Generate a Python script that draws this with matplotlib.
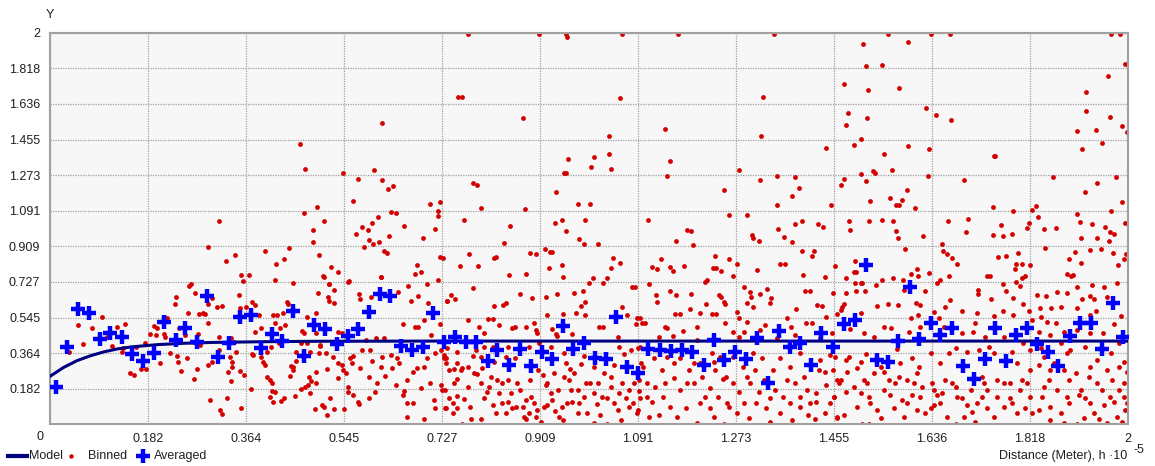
import numpy as np
import matplotlib.pyplot as plt
from matplotlib.lines import Line2D

plt.rcParams['font.family'] = ['Liberation Sans', 'DejaVu Sans']

# fitted model
model_x = [0, 0.025, 0.05, 0.075, 0.1, 0.125, 0.15, 0.2, 0.25, 0.3, 0.4, 0.5, 0.7, 2.0]
model_y = [0.245, 0.29, 0.325, 0.35, 0.37, 0.385, 0.395, 0.407, 0.414, 0.418, 0.422, 0.424, 0.425, 0.425]

# averaged semivariance (blue crosses)
avg_x = [0.012, 0.032, 0.052, 0.072, 0.092, 0.111, 0.133, 0.153, 0.172, 0.193,
         0.212, 0.233, 0.251, 0.273, 0.292, 0.312, 0.332, 0.352, 0.372, 0.392,
         0.411, 0.431, 0.451, 0.471, 0.490, 0.511, 0.533, 0.552, 0.572, 0.592,
         0.612, 0.631, 0.651, 0.671, 0.692, 0.711, 0.731, 0.751, 0.772, 0.791,
         0.812, 0.830, 0.851, 0.872, 0.892, 0.912, 0.931, 0.952, 0.971, 0.991,
         1.011, 1.031, 1.051, 1.071, 1.090, 1.110, 1.131, 1.152, 1.172, 1.192,
         1.213, 1.231, 1.251, 1.271, 1.292, 1.312, 1.332, 1.352, 1.372, 1.392,
         1.412, 1.431, 1.452, 1.473, 1.493, 1.514, 1.535, 1.555, 1.574, 1.595,
         1.613, 1.634, 1.652, 1.674, 1.693, 1.714, 1.734, 1.753, 1.773, 1.793,
         1.813, 1.831, 1.852, 1.871, 1.892, 1.911, 1.932, 1.951, 1.972, 1.991]
avg_y = [0.192, 0.393, 0.587, 0.570, 0.437, 0.464, 0.447, 0.359, 0.321, 0.362,
         0.524, 0.430, 0.493, 0.422, 0.656, 0.345, 0.413, 0.549, 0.560, 0.391,
         0.461, 0.425, 0.580, 0.350, 0.507, 0.485, 0.408, 0.451, 0.488, 0.573,
         0.663, 0.656, 0.400, 0.379, 0.396, 0.570, 0.422, 0.444, 0.422, 0.418,
         0.323, 0.379, 0.303, 0.383, 0.298, 0.371, 0.333, 0.502, 0.383, 0.413,
         0.338, 0.333, 0.546, 0.291, 0.264, 0.383, 0.379, 0.374, 0.379, 0.371,
         0.303, 0.430, 0.328, 0.371, 0.335, 0.442, 0.209, 0.476, 0.396, 0.417,
         0.303, 0.468, 0.393, 0.510, 0.532, 0.816, 0.328, 0.316, 0.427, 0.702,
         0.435, 0.519, 0.456, 0.490, 0.298, 0.230, 0.332, 0.490, 0.323, 0.456,
         0.490, 0.408, 0.369, 0.298, 0.451, 0.519, 0.515, 0.383, 0.617, 0.447]

# binned semivariance (red dots), (distance, value)
binned = [
    # 0 - 0.36
    (0.463, 1.434), (0.474, 1.306), (0.616, 1.539), (0.543, 1.281), (0.602, 1.301),
    (0.571, 1.255), (0.616, 1.250), (0.627, 1.204), (0.636, 1.216), (0.562, 1.141),
    (0.496, 1.111), (0.472, 1.077), (0.509, 1.037), (0.633, 1.086), (0.642, 1.080),
    (0.609, 1.060), (0.597, 1.029), (0.579, 1.008), (0.590, 0.991), (0.567, 0.974),
    (0.592, 0.940), (0.610, 0.932), (0.599, 0.920), (0.583, 0.903), (0.629, 0.961),
    (0.620, 0.886), (0.625, 0.876), (0.488, 0.991), (0.488, 0.929), (0.499, 0.864),
    (0.507, 0.757), (0.521, 0.801), (0.535, 0.779), (0.517, 0.719), (0.553, 0.728),
    (0.615, 0.754), (0.444, 0.899), (0.434, 0.842), (0.419, 0.821), (0.399, 0.886),
    (0.417, 0.736), (0.450, 0.723), (0.344, 0.864), (0.326, 0.833), (0.313, 1.037),
    (0.294, 0.903), (0.355, 0.765), (0.369, 0.765), (0.358, 0.731), (0.262, 0.719),
    (0.258, 0.707),
    (0.269, 0.672), (0.233, 0.651), (0.231, 0.614), (0.301, 0.643), (0.350, 0.660),
    (0.310, 0.600), (0.319, 0.604), (0.293, 0.614), (0.353, 0.592), (0.363, 0.600),
    (0.277, 0.563), (0.284, 0.566), (0.288, 0.563), (0.256, 0.570), (0.293, 0.515),
    (0.211, 0.549), (0.217, 0.544), (0.193, 0.502), (0.199, 0.490), (0.186, 0.459),
    (0.196, 0.456), (0.211, 0.461), (0.214, 0.444), (0.176, 0.417), (0.239, 0.493),
    (0.251, 0.456), (0.274, 0.461), (0.279, 0.405), (0.268, 0.422), (0.313, 0.447),
    (0.335, 0.439), (0.341, 0.418), (0.097, 0.546), (0.140, 0.510), (0.125, 0.495),
    (0.077, 0.490), (0.052, 0.507), (0.061, 0.408), (0.106, 0.444), (0.115, 0.401),
    (0.136, 0.388), (0.159, 0.393), (0.035, 0.371), (0.133, 0.371), (0.222, 0.362),
    (0.235, 0.349), (0.238, 0.320), (0.254, 0.337), (0.243, 0.274), (0.273, 0.281),
    (0.267, 0.233), (0.204, 0.315), (0.168, 0.282), (0.178, 0.284), (0.148, 0.264),
    (0.156, 0.250), (0.293, 0.303), (0.300, 0.320), (0.313, 0.379), (0.334, 0.342),
    (0.338, 0.316), (0.338, 0.291), (0.330, 0.269), (0.352, 0.274), (0.335, 0.223),
    (0.360, 0.252), (0.329, 0.136), (0.296, 0.124), (0.316, 0.073), (0.319, 0.053),
    (0.355, 0.085), (0.372, 0.179), (0.346, 0.371),
    # 0.36 - 0.73
    (0.374, 0.626), (0.380, 0.609), (0.388, 0.558), (0.381, 0.473), (0.392, 0.490),
    (0.414, 0.558), (0.422, 0.558), (0.433, 0.566), (0.439, 0.626), (0.442, 0.614),
    (0.417, 0.515), (0.426, 0.493), (0.436, 0.507), (0.467, 0.476), (0.471, 0.468),
    (0.476, 0.549), (0.494, 0.566), (0.497, 0.672), (0.516, 0.651), (0.517, 0.629),
    (0.527, 0.617), (0.509, 0.753), (0.517, 0.719), (0.527, 0.685), (0.554, 0.731),
    (0.573, 0.663), (0.575, 0.639), (0.596, 0.651), (0.615, 0.753), (0.646, 0.677),
    (0.494, 0.468), (0.500, 0.400), (0.499, 0.366), (0.465, 0.417), (0.457, 0.371),
    (0.482, 0.371), (0.477, 0.417), (0.534, 0.473), (0.541, 0.464), (0.525, 0.345),
    (0.534, 0.311), (0.541, 0.303), (0.544, 0.277), (0.550, 0.264), (0.556, 0.337),
    (0.561, 0.311), (0.563, 0.350), (0.578, 0.379), (0.593, 0.379), (0.587, 0.430),
    (0.605, 0.439), (0.620, 0.439), (0.616, 0.345), (0.597, 0.325), (0.575, 0.286),
    (0.592, 0.240), (0.606, 0.209), (0.621, 0.247), (0.614, 0.294), (0.634, 0.286),
    (0.632, 0.354), (0.643, 0.337), (0.513, 0.281), (0.534, 0.235), (0.553, 0.192),
    (0.552, 0.167), (0.563, 0.150), (0.571, 0.116), (0.574, 0.104), (0.592, 0.133),
    (0.603, 0.167), (0.546, 0.078), (0.527, 0.078), (0.514, 0.048), (0.509, 0.090),
    (0.504, 0.099), (0.491, 0.078), (0.519, 0.133), (0.493, 0.213), (0.484, 0.223),
    (0.478, 0.201), (0.473, 0.192), (0.465, 0.179), (0.454, 0.145), (0.482, 0.158),
    (0.445, 0.247), (0.451, 0.291), (0.457, 0.325), (0.481, 0.243), (0.493, 0.269),
    (0.512, 0.362), (0.500, 0.405), (0.425, 0.417), (0.410, 0.396), (0.402, 0.371),
    (0.377, 0.354), (0.375, 0.359), (0.392, 0.345), (0.396, 0.320), (0.399, 0.303),
    (0.403, 0.243), (0.408, 0.226), (0.411, 0.209), (0.411, 0.172), (0.417, 0.167),
    (0.408, 0.138), (0.414, 0.112), (0.429, 0.121), (0.434, 0.133), (0.447, 0.298),
    (0.451, 0.277),
    (0.705, 1.124), (0.723, 1.136), (0.719, 1.088), (0.720, 1.063), (0.715, 0.995),
    (0.692, 0.954), (0.657, 1.012), (0.723, 0.852), (0.729, 0.847), (0.681, 0.816),
    (0.677, 0.770), (0.688, 0.776), (0.720, 0.736), (0.699, 0.719), (0.665, 0.706),
    (0.683, 0.655), (0.701, 0.617), (0.669, 0.631), (0.736, 0.631), (0.723, 0.512),
    (0.655, 0.512), (0.677, 0.495), (0.683, 0.498), (0.694, 0.532), (0.706, 0.456),
    (0.714, 0.366), (0.731, 0.337), (0.700, 0.337), (0.694, 0.291), (0.680, 0.286),
    (0.673, 0.269), (0.663, 0.226), (0.657, 0.172), (0.654, 0.150), (0.662, 0.107),
    (0.674, 0.111), (0.662, 0.039), (0.694, 0.026), (0.689, 0.184), (0.705, 0.209),
    (0.713, 0.124), (0.714, 0.085), (0.733, 0.082), (0.725, 0.201), (0.733, 0.175),
    (0.648, 0.315), (0.642, 0.201),
    # upper band 0.73 - 1.36
    (0.775, 1.992), (0.757, 1.672), (0.765, 1.672), (0.907, 1.992), (0.957, 1.992),
    (0.960, 1.978), (1.061, 1.992), (1.166, 1.992), (1.343, 1.992), (1.057, 1.667),
    (1.323, 1.672), (0.877, 1.563), (1.141, 1.510), (1.038, 1.471), (1.319, 1.471),
    (1.038, 1.383), (1.009, 1.366), (0.961, 1.354), (1.003, 1.315), (1.041, 1.303),
    (1.151, 1.344), (1.145, 1.269), (1.278, 1.301), (1.317, 1.247), (1.349, 1.269),
    (0.953, 1.281), (0.957, 1.281), (0.785, 1.230), (0.793, 1.222), (0.939, 1.187),
    (1.250, 1.199), (0.799, 1.107), (0.882, 1.099), (0.980, 1.124), (1.001, 1.124),
    (0.950, 1.043), (0.937, 1.026), (0.992, 1.043), (0.957, 0.986), (1.109, 1.043),
    (1.259, 1.071), (1.294, 1.071), (0.768, 1.043), (1.350, 1.000), (1.182, 0.991),
    (1.190, 0.986), (1.162, 0.935), (1.193, 0.915), (1.303, 0.966), (1.316, 0.935),
    (1.305, 0.954), (1.355, 0.821), (0.842, 0.927), (0.854, 1.014), (0.891, 0.876),
    (0.901, 0.869), (0.918, 0.893), (0.928, 0.881), (0.932, 0.881), (0.982, 0.944),
    (0.990, 0.920), (1.017, 0.920), (1.045, 0.847), (1.057, 0.825), (1.040, 0.799),
    (0.950, 0.816), (0.925, 0.796), (0.952, 0.753), (0.883, 0.770), (0.851, 0.765),
    (0.823, 0.847), (0.828, 0.852), (0.794, 0.810), (0.777, 0.869), (0.760, 0.810),
    (1.233, 0.861), (1.259, 0.842), (1.230, 0.796), (1.236, 0.796), (1.244, 0.784),
    (1.267, 0.759), (1.275, 0.821), (1.311, 0.787), (1.133, 0.842), (1.116, 0.804),
    (1.127, 0.791), (1.150, 0.801), (1.156, 0.784), (1.177, 0.810),
    # 0.73 - 1.10
    (0.744, 0.660), (0.751, 0.639), (0.736, 0.631), (0.784, 0.697), (0.823, 0.605),
    (0.841, 0.609), (0.846, 0.621), (0.872, 0.663), (0.894, 0.643), (0.921, 0.651),
    (0.940, 0.668), (0.973, 0.673), (0.989, 0.680), (1.000, 0.724), (1.008, 0.745),
    (1.026, 0.724), (1.034, 0.748), (1.079, 0.702), (1.085, 0.702), (0.985, 0.605),
    (0.993, 0.626), (0.976, 0.566), (0.993, 0.558), (0.951, 0.563), (0.922, 0.558),
    (0.898, 0.515), (0.821, 0.536), (0.813, 0.536), (0.775, 0.532), (0.796, 0.495),
    (0.806, 0.464), (0.833, 0.507), (0.858, 0.493), (0.862, 0.495), (0.883, 0.495),
    (0.901, 0.481), (0.903, 0.464), (0.932, 0.486), (0.938, 0.461), (0.941, 0.451),
    (0.969, 0.459), (1.019, 0.498), (1.026, 0.498), (1.053, 0.447), (1.062, 0.600),
    (1.070, 0.558), (1.095, 0.541), (1.087, 0.512), (0.736, 0.388), (0.731, 0.354),
    (0.734, 0.311), (0.750, 0.281), (0.765, 0.286), (0.784, 0.349), (0.787, 0.260),
    (0.793, 0.257), (0.755, 0.230), (0.775, 0.189), (0.756, 0.145), (0.741, 0.133),
    (0.735, 0.082), (0.748, 0.056), (0.768, 0.128), (0.779, 0.090), (0.781, 0.026),
    (0.765, 0.002), (0.799, 0.026), (0.806, 0.136), (0.810, 0.167), (0.821, 0.099),
    (0.827, 0.056), (0.833, 0.158), (0.838, 0.209), (0.849, 0.226), (0.849, 0.116),
    (0.855, 0.162), (0.864, 0.090), (0.872, 0.175), (0.883, 0.124), (0.889, 0.056),
    (0.883, 0.026), (0.904, 0.073), (0.911, 0.014), (0.906, 0.277), (0.914, 0.252),
    (0.920, 0.201), (0.929, 0.158), (0.932, 0.124), (0.923, 0.099), (0.936, 0.070),
    (0.950, 0.090), (0.951, 0.022), (0.966, 0.175), (0.969, 0.116), (0.979, 0.060),
    (0.991, 0.141), (1.002, 0.209), (1.009, 0.162), (1.014, 0.104), (1.021, 0.048),
    (1.009, 0.005), (1.034, 0.000), (1.033, 0.133), (1.041, 0.192), (1.053, 0.073),
    (1.068, 0.133), (1.075, 0.090), (1.089, 0.056), (1.093, 0.172), (1.062, 0.209),
    (1.083, 0.213), (0.965, 0.281), (0.985, 0.308), (0.957, 0.311), (0.954, 0.243),
    (0.935, 0.264), (0.891, 0.226), (0.863, 0.337), (0.846, 0.345), (0.824, 0.320),
    (0.818, 0.243), (0.829, 0.226), (0.799, 0.209), (0.756, 0.371), (0.806, 0.396),
    (0.821, 0.396), (0.849, 0.396), (0.889, 0.396), (0.908, 0.417), (0.929, 0.396),
    (0.954, 0.362), (0.991, 0.350), (1.009, 0.294), (1.028, 0.260), (1.046, 0.303),
    (1.065, 0.359), (1.077, 0.379), (1.090, 0.388), (1.096, 0.311), (1.056, 0.396),
    (0.725, 0.379), (0.734, 0.337), (0.741, 0.277), (0.756, 0.311), (0.762, 0.277),
    (0.749, 0.209), (0.728, 0.175), (0.747, 0.107), (0.756, 0.082), (0.775, 0.294),
    (0.790, 0.379), (0.799, 0.345), (0.802, 0.286), (0.815, 0.192), (0.839, 0.107),
    (0.846, 0.056), (0.858, 0.082), (0.867, 0.209), (0.877, 0.090), (0.880, 0.039),
    (0.893, 0.141), (0.898, 0.107), (0.901, 0.039), (0.917, 0.090), (0.923, 0.209),
    (0.943, 0.175), (0.945, 0.039), (0.960, 0.107), (0.963, 0.226), (0.973, 0.260),
    (0.979, 0.175), (0.982, 0.107), (0.994, 0.209), (0.997, 0.056), (1.016, 0.209),
    (1.025, 0.141), (1.041, 0.243), (1.047, 0.107), (1.056, 0.158), (1.059, 0.022),
    (1.075, 0.175), (1.081, 0.107), (1.090, 0.073),
    # 1.10 - 1.46
    (1.383, 1.264), (1.389, 1.209), (1.377, 1.165), (1.348, 1.119), (1.449, 1.119),
    (1.395, 1.037), (1.383, 1.022), (1.425, 1.022), (1.435, 1.009), (1.361, 0.956),
    (1.377, 0.929), (1.396, 0.886), (1.418, 0.886), (1.413, 0.859), (1.456, 0.808),
    (1.397, 0.765), (1.437, 0.753), (1.364, 0.821),
    (1.112, 0.719), (1.125, 0.660), (1.126, 0.626), (1.151, 0.680), (1.162, 0.660),
    (1.189, 0.665), (1.216, 0.728), (1.219, 0.736), (1.217, 0.614), (1.242, 0.660),
    (1.245, 0.651), (1.250, 0.626), (1.253, 0.614), (1.287, 0.702), (1.299, 0.677),
    (1.300, 0.651), (1.293, 0.617), (1.305, 0.600), (1.318, 0.663), (1.330, 0.689),
    (1.338, 0.643), (1.335, 0.621), (1.384, 0.587), (1.400, 0.680), (1.410, 0.680),
    (1.423, 0.609), (1.433, 0.604), (1.453, 0.672), (1.089, 0.541), (1.098, 0.515),
    (1.104, 0.515), (1.141, 0.498), (1.144, 0.490), (1.160, 0.563), (1.169, 0.563),
    (1.175, 0.476), (1.188, 0.587), (1.200, 0.498), (1.206, 0.566), (1.228, 0.563),
    (1.236, 0.561), (1.252, 0.519), (1.274, 0.575), (1.278, 0.541), (1.293, 0.524),
    (1.287, 0.473), (1.318, 0.481), (1.327, 0.507), (1.368, 0.544), (1.374, 0.498),
    (1.383, 0.456), (1.403, 0.515), (1.413, 0.515), (1.440, 0.549), (1.450, 0.468),
    (1.460, 0.561), (1.129, 0.447), (1.156, 0.451), (1.200, 0.430), (1.268, 0.473),
    (1.278, 0.447), (1.349, 0.442), (1.429, 0.439), (1.095, 0.396), (1.120, 0.337),
    (1.145, 0.345), (1.169, 0.337), (1.194, 0.311), (1.228, 0.362), (1.231, 0.320),
    (1.234, 0.277), (1.254, 0.243), (1.249, 0.230), (1.268, 0.345), (1.286, 0.294),
    (1.305, 0.362), (1.321, 0.337), (1.355, 0.337), (1.372, 0.294), (1.392, 0.366),
    (1.429, 0.328), (1.447, 0.354), (1.453, 0.277), (1.426, 0.277), (1.101, 0.294),
    (1.107, 0.209), (1.123, 0.192), (1.141, 0.209), (1.157, 0.235), (1.169, 0.175),
    (1.194, 0.209), (1.209, 0.243), (1.224, 0.184), (1.240, 0.141), (1.268, 0.209),
    (1.279, 0.167), (1.299, 0.209), (1.315, 0.167), (1.345, 0.175), (1.360, 0.138),
    (1.383, 0.209), (1.392, 0.141), (1.404, 0.175), (1.421, 0.162), (1.422, 0.116),
    (1.440, 0.201), (1.454, 0.141), (1.095, 0.133), (1.117, 0.116), (1.112, 0.039),
    (1.129, 0.048), (1.151, 0.090), (1.163, 0.039), (1.180, 0.082), (1.200, 0.005),
    (1.206, 0.107), (1.224, 0.082), (1.231, 0.039), (1.250, 0.002), (1.259, 0.090),
    (1.274, 0.056), (1.296, 0.031), (1.309, 0.107), (1.329, 0.082), (1.336, 0.014),
    (1.355, 0.056), (1.376, 0.022), (1.392, 0.090), (1.407, 0.048), (1.420, 0.026),
    (1.438, 0.056), (1.460, 0.031),
    (1.092, 0.226), (1.107, 0.141), (1.135, 0.277), (1.138, 0.141), (1.157, 0.311),
    (1.182, 0.209), (1.185, 0.277), (1.206, 0.311), (1.216, 0.141), (1.243, 0.345),
    (1.256, 0.107), (1.287, 0.107), (1.293, 0.243), (1.308, 0.277), (1.324, 0.226),
    (1.336, 0.133), (1.342, 0.277), (1.367, 0.226), (1.373, 0.107), (1.398, 0.243),
    (1.410, 0.107), (1.438, 0.269), (1.447, 0.107),
    # upper band 1.44 - 2
    (1.439, 1.413), (1.473, 1.740), (1.480, 1.590), (1.477, 1.527), (1.491, 1.429),
    (1.505, 1.459), (1.509, 1.944), (1.513, 1.828), (1.515, 1.563), (1.518, 1.706),
    (1.544, 1.833), (1.548, 1.383), (1.555, 1.992), (1.575, 1.718), (1.592, 1.954),
    (1.592, 1.422), (1.626, 1.616), (1.631, 1.408), (1.634, 1.992), (1.643, 1.578),
    (1.669, 1.992), (1.672, 1.556), (1.751, 1.372), (1.969, 1.992), (1.985, 1.992),
    (1.995, 1.842), (1.963, 1.777), (1.923, 1.696), (1.923, 1.599), (1.966, 1.570),
    (1.941, 1.505), (1.905, 1.497), (1.988, 1.522), (1.999, 1.493), (1.952, 1.437),
    (1.915, 1.406),
    # 1.46 - 1.83
    (1.467, 1.221), (1.473, 1.255), (1.504, 1.276), (1.514, 1.243), (1.527, 1.294),
    (1.530, 1.281), (1.563, 1.298), (1.629, 1.267), (1.695, 1.250), (1.753, 1.372),
    (1.521, 1.141), (1.558, 1.158), (1.570, 1.119), (1.575, 1.119), (1.581, 1.145),
    (1.590, 1.199), (1.604, 1.107), (1.749, 1.111), (1.787, 1.088), (1.822, 1.097),
    (1.483, 1.037), (1.485, 0.991), (1.519, 1.039), (1.544, 1.043), (1.564, 1.037),
    (1.569, 0.986), (1.574, 0.954), (1.619, 0.963), (1.586, 0.893), (1.654, 0.920),
    (1.657, 0.886), (1.665, 0.869), (1.674, 0.847), (1.682, 0.821), (1.666, 1.037),
    (1.703, 1.048), (1.699, 0.980), (1.749, 0.966), (1.765, 1.020), (1.768, 0.961),
    (1.785, 0.971), (1.813, 1.003), (1.817, 1.026), (1.796, 0.876), (1.773, 0.859),
    (1.758, 0.852), (1.792, 0.821), (1.803, 0.821), (1.818, 0.813), (1.790, 0.791),
    (1.808, 0.757), (1.804, 0.745), (1.793, 0.728), (1.493, 0.835), (1.491, 0.779),
    (1.496, 0.779), (1.476, 0.748), (1.494, 0.724), (1.504, 0.724), (1.507, 0.724),
    (1.496, 0.680), (1.512, 0.680), (1.533, 0.711), (1.544, 0.736), (1.564, 0.748),
    (1.583, 0.736), (1.585, 0.685), (1.597, 0.770), (1.609, 0.793), (1.610, 0.757),
    (1.631, 0.774), (1.623, 0.680), (1.645, 0.724), (1.651, 0.736), (1.668, 0.757),
    (1.739, 0.759), (1.744, 0.759), (1.768, 0.719), (1.799, 0.706), (1.722, 0.685),
    (1.722, 0.663), (1.745, 0.638), (1.786, 0.643), (1.773, 0.679), (1.806, 0.614),
    (1.816, 0.580), (1.473, 0.612), (1.470, 0.600), (1.467, 0.583), (1.477, 0.672),
    (1.505, 0.570), (1.535, 0.604), (1.555, 0.614), (1.574, 0.609), (1.606, 0.621),
    (1.615, 0.609), (1.611, 0.558), (1.597, 0.541), (1.649, 0.541), (1.640, 0.575),
    (1.661, 0.600), (1.670, 0.634), (1.692, 0.578), (1.720, 0.566), (1.751, 0.554),
    (1.769, 0.580), (1.787, 0.558), (1.822, 0.532), (1.485, 0.485), (1.510, 0.468),
    (1.529, 0.447), (1.547, 0.498), (1.561, 0.493), (1.593, 0.473), (1.615, 0.498),
    (1.658, 0.498), (1.692, 0.468), (1.712, 0.473), (1.717, 0.515), (1.734, 0.447),
    (1.742, 0.396), (1.770, 0.447), (1.806, 0.417), (1.819, 0.379), (1.457, 0.345),
    (1.476, 0.328), (1.497, 0.286), (1.504, 0.320), (1.513, 0.359), (1.572, 0.383),
    (1.577, 0.311), (1.600, 0.337), (1.612, 0.294), (1.634, 0.362), (1.652, 0.311),
    (1.668, 0.362), (1.680, 0.388), (1.701, 0.371), (1.723, 0.379), (1.751, 0.362),
    (1.785, 0.371), (1.794, 0.311), (1.819, 0.277), (1.461, 0.226), (1.467, 0.226),
    (1.479, 0.269), (1.491, 0.192), (1.510, 0.226), (1.529, 0.264), (1.547, 0.269),
    (1.556, 0.226), (1.567, 0.209), (1.590, 0.226), (1.609, 0.260), (1.618, 0.189),
    (1.637, 0.209), (1.661, 0.226), (1.680, 0.192), (1.733, 0.209), (1.757, 0.226),
    (1.782, 0.209), (1.804, 0.226), (1.476, 0.167), (1.497, 0.090), (1.461, 0.039),
    (1.473, 0.048), (1.519, 0.141), (1.535, 0.073), (1.541, 0.031), (1.559, 0.150),
    (1.566, 0.082), (1.581, 0.124), (1.584, 0.039), (1.600, 0.150), (1.609, 0.073),
    (1.634, 0.082), (1.640, 0.099), (1.646, 0.150), (1.655, 0.158), (1.665, 0.039),
    (1.680, 0.000), (1.692, 0.133), (1.701, 0.099), (1.711, 0.065), (1.717, 0.014),
    (1.730, 0.141), (1.739, 0.082), (1.751, 0.039), (1.770, 0.090), (1.782, 0.133),
    (1.794, 0.056), (1.809, 0.082), (1.819, 0.141), (1.507, 0.000), (1.519, 0.002),
    (1.464, 0.209), (1.454, 0.141), (1.482, 0.345), (1.504, 0.158), (1.516, 0.209),
    (1.522, 0.107), (1.541, 0.294), (1.547, 0.175), (1.575, 0.243), (1.590, 0.107),
    (1.603, 0.209), (1.615, 0.141), (1.624, 0.056), (1.640, 0.175), (1.652, 0.107),
    (1.674, 0.209), (1.683, 0.141), (1.695, 0.039), (1.708, 0.175), (1.720, 0.107),
    (1.729, 0.243), (1.739, 0.175), (1.757, 0.141), (1.770, 0.209), (1.785, 0.107),
    (1.800, 0.175), (1.813, 0.209), (1.822, 0.056),
    # 1.83 - 2
    (1.861, 1.264), (1.978, 1.264), (1.942, 1.230), (1.920, 1.187), (1.988, 1.136),
    (1.968, 1.088), (1.906, 1.073), (1.995, 1.026), (1.911, 1.031), (1.934, 1.022),
    (1.958, 1.009), (1.867, 1.003), (1.844, 0.995), (1.833, 1.060), (1.830, 1.116),
    (1.912, 0.952), (1.943, 0.954), (1.966, 0.980), (1.974, 0.971), (1.965, 0.937),
    (1.846, 0.898), (1.901, 0.881), (1.930, 0.889), (1.949, 0.896), (1.972, 0.876),
    (1.997, 0.869), (1.992, 0.842), (1.982, 0.816), (1.890, 0.842), (1.912, 0.825),
    (1.887, 0.767), (1.895, 0.757), (1.898, 0.762), (1.905, 0.702), (1.934, 0.711),
    (1.955, 0.702), (1.979, 0.723), (1.869, 0.677), (1.886, 0.672), (1.914, 0.638),
    (1.930, 0.656), (1.936, 0.638), (1.961, 0.651), (1.847, 0.655), (1.831, 0.660),
    (1.836, 0.592), (1.858, 0.592), (1.876, 0.600), (1.905, 0.592), (1.940, 0.580),
    (1.929, 0.558), (1.974, 0.510), (1.987, 0.554), (1.954, 0.464), (1.866, 0.515),
    (1.881, 0.473), (1.839, 0.549), (1.849, 0.524), (1.835, 0.473), (1.856, 0.456),
    (1.906, 0.481), (1.929, 0.468), (1.983, 0.413), (1.992, 0.320), (1.998, 0.269),
    (1.968, 0.362), (1.943, 0.328), (1.961, 0.277), (1.921, 0.396), (1.893, 0.379),
    (1.875, 0.413), (1.887, 0.362), (1.844, 0.345), (1.834, 0.303), (1.856, 0.277),
    (1.853, 0.226), (1.844, 0.192), (1.890, 0.226), (1.903, 0.260), (1.927, 0.243),
    (1.943, 0.209), (1.971, 0.226), (1.983, 0.175), (1.992, 0.141), (1.974, 0.116),
    (1.955, 0.099), (1.937, 0.056), (1.921, 0.133), (1.909, 0.150), (1.890, 0.107),
    (1.875, 0.056), (1.856, 0.090), (1.841, 0.141), (1.834, 0.073), (1.856, 0.022),
    (1.881, 0.008), (1.906, 0.002), (1.918, 0.031), (1.946, 0.026), (1.961, 0.005),
    (1.980, 0.039), (1.989, 0.014), (1.995, 0.073), (1.998, 0.107),
    (1.838, 0.388), (1.862, 0.311), (1.881, 0.277), (1.869, 0.175), (1.887, 0.141),
    (1.912, 0.175), (1.930, 0.294), (1.952, 0.175), (1.967, 0.141), (1.983, 0.294),
    (1.992, 0.209), (1.930, 0.107),
]

ticks = [i * 2 / 11 for i in range(12)]
tick_labels = ['0', '0.182', '0.364', '0.545', '0.727', '0.909',
               '1.091', '1.273', '1.455', '1.636', '1.818', '2']

bx = np.array([p[0] for p in binned])
by = np.array([p[1] for p in binned])

RED = '#d40000'
BLUE = '#0000ff'
NAVY = '#000080'
TXT = '#202020'

W, H = 1155, 466
fig = plt.figure(figsize=(W / 100, H / 100), dpi=100)
ax = fig.add_axes([50 / W, (H - 424.3) / H, 1078 / W, 391.6 / H])
ax.set_facecolor('#f7f7f7')

ax.scatter(bx, by, s=12, color=RED, linewidths=0, zorder=2)
ax.plot(model_x, model_y, color=NAVY, lw=2.2, zorder=3)
ax.plot(avg_x, avg_y, ls='none', marker='+', ms=10, mew=3.2, color=BLUE, zorder=4)

ax.set_xlim(0, 2)
ax.set_ylim(0, 2)
ax.set_xticks(ticks)
ax.set_yticks(ticks)
ax.set_xticklabels([''] + tick_labels[1:])
ax.set_yticklabels([''] + tick_labels[1:])
ax.tick_params(length=0, labelsize=9, colors=TXT, pad=6)
ax.tick_params(axis='y', pad=7)
ax.grid(True, color='#a0a0a0', ls=(0, (1, 1)), lw=0.9)
ax.set_axisbelow(True)
for s in ax.spines.values():
    s.set_color('#a0a0a0')
    s.set_linewidth(1.5)

def fx(px):
    return px / W

def fy(py):
    return 1 - py / H

fig.text(fx(40), fy(437), '0', ha='center', va='center', fontsize=9, color=TXT)
fig.text(fx(50), fy(15), 'Y', ha='center', va='center', fontsize=9, color=TXT)
fig.text(fx(1127), fy(456), 'Distance (Meter), h \u00b710', ha='right', va='center',
         fontsize=9, color=TXT)
fig.text(fx(1134), fy(450), '-5', ha='left', va='center', fontsize=9, color=TXT)

# legend along the bottom edge
ly = fy(456)
fig.add_artist(Line2D([fx(8), fx(27)], [ly, ly], color=NAVY, lw=3, transform=fig.transFigure))
fig.text(fx(29), ly, 'Model', ha='left', va='center', fontsize=9, color=TXT)
fig.add_artist(Line2D([fx(71)], [ly], ls='none', marker='o', ms=3.2, mew=0, color=RED,
                      transform=fig.transFigure))
fig.text(fx(88), ly, 'Binned', ha='left', va='center', fontsize=9, color=TXT)
fig.add_artist(Line2D([fx(143)], [ly], ls='none', marker='+', ms=10, mew=3.2, color=BLUE,
                      transform=fig.transFigure))
fig.text(fx(154), ly, 'Averaged', ha='left', va='center', fontsize=9, color=TXT)

fig.savefig('out.png', dpi=100)
